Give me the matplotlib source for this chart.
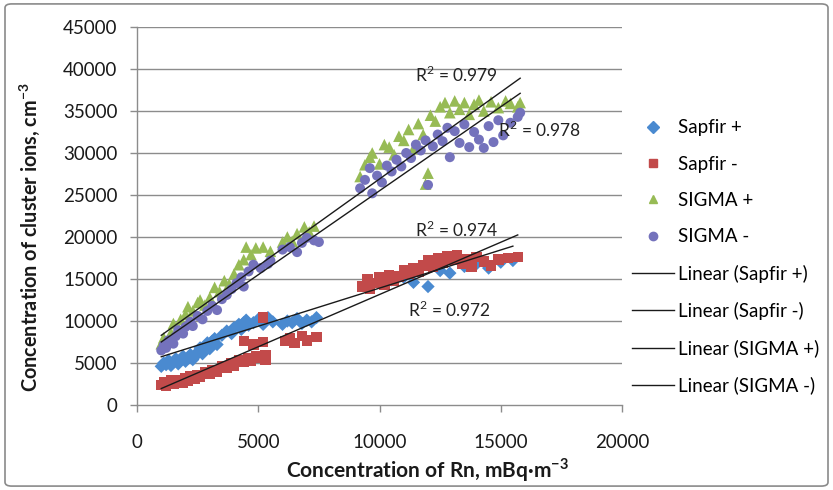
import matplotlib
matplotlib.use("Agg")
import matplotlib.pyplot as plt
import numpy as np
from matplotlib.lines import Line2D
from matplotlib.patches import FancyBboxPatch

# ---------------- data ----------------
sapfir_p_x = [1000, 1100, 1200, 1300, 1400, 1500, 1600, 1700, 1800, 1900, 2000, 2100, 2200, 2300,
              2400, 2500, 2600, 2700, 2800, 2900, 3000, 3100, 3200, 3300, 3500, 3700, 3900, 4000,
              4200, 4300, 4400, 4500, 4600, 4800, 5000, 5200, 5400, 5600, 6000, 6200, 6400, 6600,
              6800, 7000, 7200, 7400,
              9500, 10000, 10500, 11000, 11400, 12000, 12500, 12900, 13500, 14000, 14500, 15000, 15500]
sapfir_p_y = [4600, 5000, 4800, 5300, 4700, 5100, 5500, 4900, 5300, 5800, 5200, 5600, 6000, 5400,
              5800, 6300, 6800, 6100, 7000, 7400, 6700, 7600, 7900, 7200, 8300, 8800, 8500, 9200,
              9600, 9000, 9800, 10100, 9500, 9800, 10200, 9600, 10400, 9900, 9600, 10000, 9800, 10300,
              9700, 10100, 9900, 10400,
              14200, 14600, 14900, 15200, 14600, 14100, 16000, 15700, 16500, 16800, 16300, 17000, 17200]

sapfir_m_x = [1000, 1100, 1200, 1300, 1400, 1500, 1600, 1800, 1900, 2000, 2100, 2200, 2400, 2500,
              2600, 2800, 3000, 3100, 3300, 3500, 3700, 3900, 4000, 4200, 4400, 4600, 4700, 4900,
              4400, 4800, 5200, 5200, 5000, 5300, 5300, 6100, 6300, 6500, 6800, 7000, 7400,
              9300, 9500, 9600, 9800, 10000, 10200, 10400, 10600, 10800, 11000, 11200, 11400, 11600,
              11800, 12000, 12200, 12400, 12600, 12800, 13000, 13200, 13400, 13600, 13800, 14000,
              14300, 14600, 14900, 15300, 15700]
sapfir_m_y = [2400, 2700, 2300, 2600, 2900, 2500, 2800, 3000, 2700, 3200, 2900, 3400, 3100, 3600,
              3300, 3900, 3700, 4200, 4000, 4600, 4400, 5000, 4700, 5300, 5100, 5600, 5300, 5800,
              7600, 7200, 7500, 10400, 5600, 5900, 5400, 7600, 8000, 7400, 8200, 7700, 8100,
              14100, 15000, 13800, 14500, 15200, 14300, 15500, 14800, 15300, 16000, 15600, 16300, 15900,
              16600, 17200, 16400, 17500, 16900, 17700, 17300, 17800, 16800, 17400, 16500, 17600,
              17100, 16600, 17300, 17500, 17600]

sigma_p_x = [1000, 1100, 1300, 1400, 1500, 1700, 1800, 2000, 2100, 2300, 2500, 2600, 2800, 3000,
             3200, 3400, 3600, 3800, 4000, 4200, 4400, 4500, 4700, 4900, 5200, 5500, 6000, 6200,
             6400, 6600, 6900, 7100, 7300,
             9200, 9400, 9600, 9700, 10000, 10200, 10400, 10600, 10800, 11000, 11200, 11400, 11600,
             11800, 12000, 12100, 12300, 12500, 12700, 12900, 13100, 13300, 13500, 13700, 13900,
             14100, 14300, 14600, 14900, 15200, 15400, 15700, 15800, 11900]
sigma_p_y = [7300, 8000, 7700, 8600, 9700, 9200, 10200, 10800, 11700, 11200, 12200, 12500, 11900, 12800,
             14000, 13500, 14800, 14400, 15600, 16700, 17300, 18800, 17900, 18700, 18800, 18300, 19400, 20000,
             19500, 20400, 21200, 20600, 21300,
             27200, 28600, 29500, 30000, 28700, 31000, 30700, 29800, 32000, 31500, 32800, 30500, 33500,
             32200, 27600, 34500, 33800, 35500, 36000, 34800, 36200, 35200, 36000, 34600, 35800,
             36300, 35000, 36100, 35400, 36200, 35900, 35500, 36000, 26300]

sigma_m_x = [1000, 1100, 1200, 1300, 1500, 1600, 1700, 1900, 2000, 2200, 2300, 2500, 2700, 2900,
             3100, 3300, 3500, 3700, 3900, 4100, 4300, 4400, 4600, 4800, 5100, 5400, 5500, 6000,
             6300, 6600, 6800, 7000, 7300, 7500,
             9200, 9400, 9600, 9700, 9900, 10100, 10300, 10500, 10700, 10900, 11100, 11300, 11500,
             11700, 11900, 12000, 12200, 12400, 12600, 12800, 12900, 13100, 13300, 13500, 13700,
             13900, 14100, 14300, 14500, 14700, 14900, 15100, 15400, 15700, 15800]
sigma_m_y = [6500, 7100, 6800, 7700, 7300, 8200, 8900, 8500, 9300, 9900, 9400, 10600, 10200, 11200,
             11800, 11300, 12600, 13100, 13800, 14500, 15200, 14100, 15900, 16700, 16300, 16800, 17200, 18500,
             18800, 18200, 19300, 19900, 19600, 19400,
             25800, 26800, 28200, 25200, 27300, 26500, 28500, 27800, 29200, 28400, 30000, 29400, 31000,
             30300, 31500, 26200, 30800, 32200, 31400, 33000, 29500, 32600, 31200, 33400, 30700,
             32500, 31600, 30600, 33200, 31300, 33900, 32100, 33600, 34300, 34800]

# linear trend lines (slope, intercept)
trend_names = ["Linear (Sapfir +)", "Linear (Sapfir -)", "Linear (SIGMA +)", "Linear (SIGMA -)"]
trend_slope = [0.908, 1.244, 2.068, 2.000]
trend_intercept = [4836, 714, 6228, 5504]
r2_labels = ["R$^2$ = 0.974", "R$^2$ = 0.972", "R$^2$ = 0.979", "R$^2$ = 0.978"]
r2_x = [11460, 11180, 11460, 14880]
r2_y = [20830, 11300, 39300, 32700]

series_names = ["Sapfir +", "Sapfir -", "SIGMA +", "SIGMA -"]
x_ticks = [0, 5000, 10000, 15000, 20000]
y_ticks = [0, 5000, 10000, 15000, 20000, 25000, 30000, 35000, 40000, 45000]

# ---------------- plot ----------------
plt.rcParams['font.family'] = ['Lato', 'DejaVu Sans']
plt.rcParams['mathtext.fontset'] = 'custom'
plt.rcParams['mathtext.rm'] = 'Lato'
plt.rcParams['mathtext.bf'] = 'Lato:bold'
fig = plt.figure(figsize=(8.33, 4.9), dpi=100)
fig.patch.set_facecolor('white')
border = FancyBboxPatch((0.006, 0.008), 0.988, 0.984, boxstyle="round,pad=0,rounding_size=0.008",
                        transform=fig.transFigure, facecolor='none', edgecolor='#8a8a8a', lw=1.2)
fig.patches.append(border)

ax = fig.add_axes([0.1645, 0.1735, 0.5822, 0.7714])

colors = ['#4a8ad0', '#c24a4a', '#97bb55', '#7472bc']
markers = ['D', 's', '^', 'o']
sizes = [46, 56, 70, 52]
xs = [sapfir_p_x, sapfir_m_x, sigma_p_x, sigma_m_x]
ys = [sapfir_p_y, sapfir_m_y, sigma_p_y, sigma_m_y]

for yv in y_ticks[1:]:
    ax.axhline(yv, color='#8c8c8c', lw=1.0, zorder=0)

for i in range(4):
    ax.scatter(xs[i], ys[i], marker=markers[i], s=sizes[i], color=colors[i],
               edgecolors='none', zorder=2 + i)

for i in range(4):
    xmin, xmax = min(xs[i]), max(xs[i])
    xl = np.array([xmin, xmax])
    ax.plot(xl, trend_slope[i] * xl + trend_intercept[i], color='#1a1a1a', lw=1.0, zorder=10)
    ax.text(r2_x[i], r2_y[i], r2_labels[i], fontsize=12.5, color='#222222', va='center', ha='left', zorder=11)

ax.set_xlim(0, 20000)
ax.set_ylim(0, 45000)
ax.set_xticks(x_ticks)
ax.set_yticks(y_ticks)
ax.tick_params(axis='both', direction='out', length=5, color='#8c8c8c', labelsize=13.5,
               labelcolor='#1a1a1a', width=1)
ax.tick_params(axis='x', pad=16)
ax.tick_params(axis='y', pad=9)
for s in ['top', 'right']:
    ax.spines[s].set_visible(False)
for s in ['left', 'bottom']:
    ax.spines[s].set_color('#8c8c8c')
    ax.spines[s].set_linewidth(1)

ax.set_xlabel("Concentration of Rn, mBq\u00b7m$^{\\mathbf{-3}}$", fontsize=15, fontweight='bold',
              color='#1a1a1a')
ax.set_ylabel("Concentration of cluster ions, cm$^{\\mathbf{-3}}$", fontsize=14.3, fontweight='bold',
              color='#1a1a1a')
ax.xaxis.set_label_coords(0.60, -0.172)
ax.yaxis.set_label_coords(-0.22, 0.444)
ax.xaxis.label.set_va('center')
ax.yaxis.label.set_va('center')

handles = []
for i in range(4):
    handles.append(Line2D([], [], marker=markers[i], color=colors[i], linestyle='none', markersize=6))
for i in range(4):
    handles.append(Line2D([], [], color='#1a1a1a', lw=1.0))
labels = series_names + trend_names
fig.legend(handles, labels, loc='upper left', bbox_to_anchor=(0.750, 0.772), frameon=False,
           fontsize=13.5, handlelength=2.25, handletextpad=0.18, labelspacing=1.03, borderaxespad=0)

fig.savefig("out.png", dpi=100)
